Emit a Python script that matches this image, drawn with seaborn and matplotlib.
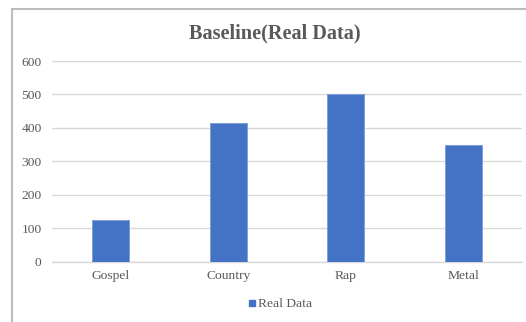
import matplotlib
matplotlib.use("Agg")
import matplotlib.pyplot as plt
from matplotlib.lines import Line2D
import seaborn as sns
import pandas as pd

genres = ["Gospel", "Country", "Rap", "Metal"]
real_data = [125, 415, 500, 350]
y_ticks = [0, 100, 200, 300, 400, 500, 600]
series_name = "Real Data"
title = "Baseline(Real Data)"

sns.set_theme(style="white")
plt.rcParams["font.family"] = ["Liberation Serif", "DejaVu Serif"]

W, H = 526, 322
fig = plt.figure(figsize=(W / 100, H / 100), dpi=100)
ax = fig.add_axes([52 / W, 1 - 261.5 / H, 470 / W, 200.5 / H])

df = pd.DataFrame({"genre": genres, "value": real_data})
bar_color = "#4472C4"
sns.barplot(data=df, x="genre", y="value", color=bar_color, width=0.315,
            edgecolor="#7FA0DC", linewidth=0.7, saturation=1, ax=ax, zorder=3)

ax.set_xlim(-0.5, 3.5)
ax.set_ylim(0, 600)
ax.set_yticks(y_ticks)
ax.set_yticklabels([str(t) for t in y_ticks])
ax.set_xlabel("")
ax.set_ylabel("")
ax.grid(axis="y", color="#D9D9D9", linewidth=1, zorder=0)
ax.grid(axis="x", visible=False)
for side in ["top", "right", "left"]:
    ax.spines[side].set_visible(False)
ax.spines["bottom"].set_color("#D9D9D9")
ax.spines["bottom"].set_linewidth(1)
ax.tick_params(axis="both", length=0, labelsize=9.7, colors="#595959")
ax.tick_params(axis="y", pad=7.5)
ax.tick_params(axis="x", pad=6)

fig.text(275 / W, 1 - 33 / H, title, ha="center", va="center",
         fontsize=14.6, fontweight="bold", color="#595959")

handle = Line2D([], [], marker="s", linestyle="none", markersize=5,
                markerfacecolor=bar_color, markeredgecolor=bar_color)
fig.legend([handle], [series_name], loc="center", bbox_to_anchor=(279 / W, 1 - 304 / H),
           frameon=False, fontsize=9.7, handletextpad=0.05, handlelength=0.8,
           labelcolor="#595959")

# chart frame (top and left edges)
fig.add_artist(Line2D([12 / W, 1], [1 - 9 / H, 1 - 9 / H], transform=fig.transFigure,
                      color="#BDBDBD", linewidth=1.5))
fig.add_artist(Line2D([12 / W, 12 / W], [0, 1 - 9 / H], transform=fig.transFigure,
                      color="#BDBDBD", linewidth=1.5))

fig.savefig("out.png", dpi=100)
